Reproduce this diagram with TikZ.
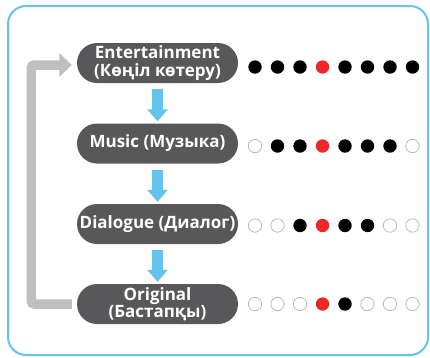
\documentclass[tikz,border=0pt]{standalone}
\usepackage{fontspec}
\setmainfont{Open Sans}
\usetikzlibrary{arrows.meta}
\definecolor{boxgray}{RGB}{88,88,90}
\definecolor{frameblue}{RGB}{100,196,236}
\definecolor{arrowblue}{RGB}{100,196,236}
\definecolor{loopgray}{RGB}{190,191,195}
\definecolor{dotred}{RGB}{236,40,40}
\definecolor{opengray}{RGB}{185,185,185}
\begin{document}
\begin{tikzpicture}[x=1pt,y=-1pt,
  stage/.style={fill=boxgray, text=white, font=\bfseries\fontsize{17}{17.5}\selectfont,
    rounded corners=20pt, minimum width=161pt, minimum height=40pt, inner sep=0pt, align=center},
  flow/.style={draw=arrowblue, line width=11pt, -{Triangle[width=20pt,length=12pt]}},
  backloop/.style={draw=loopgray, line width=9.5pt, rounded corners=3pt, -{Triangle[width=23pt,length=12.5pt]}},
  dotb/.style={fill=black},
  dotr/.style={fill=dotred},
  doto/.style={draw=opengray, line width=0.8pt}]
\useasboundingbox (0,0) rectangle (430,357);
\draw[frameblue, line width=2pt, rounded corners=18pt] (8,6) rectangle (428,355);
\node[stage] (ent) at (157.5,63) {Entertainment\\(Көңіл көтеру)};
\node[stage] (mus) at (157.5,143.5) {Music (Музыка)};
\node[stage] (dia) at (157.5,224) {Dialogue (Диалог)};
\node[stage] (ori) at (157.5,304) {Original\\(Бастапқы)};
\draw[flow] ([yshift=-6pt]ent.south) -- ([yshift=2pt]mus.north);
\draw[flow] ([yshift=-6pt]mus.south) -- ([yshift=2pt]dia.north);
\draw[flow] ([yshift=-6pt]dia.south) -- ([yshift=2pt]ori.north);
\coordinate (lx) at (31.3,200);
\draw[backloop] ([xshift=-5pt]ori.west) -| (lx) |- ([xshift=-5pt,yshift=-2pt]ent.west);
\foreach \yy/\pat in {67/{b,b,b,r,b,b,b,b}, 146/{o,b,b,r,b,b,b,o}, 225.5/{o,o,b,r,b,b,o,o}, 304/{o,o,o,r,b,o,o,o}}{
  \foreach \c [count=\i from 0] in \pat {
    \ifx\c o
      \path[doto] (255+22.5*\i,\yy) circle (6.3pt);
    \else
      \path[dot\c] (255+22.5*\i,\yy) circle (6.7pt);
    \fi
  }
}
\end{tikzpicture}
\end{document}
